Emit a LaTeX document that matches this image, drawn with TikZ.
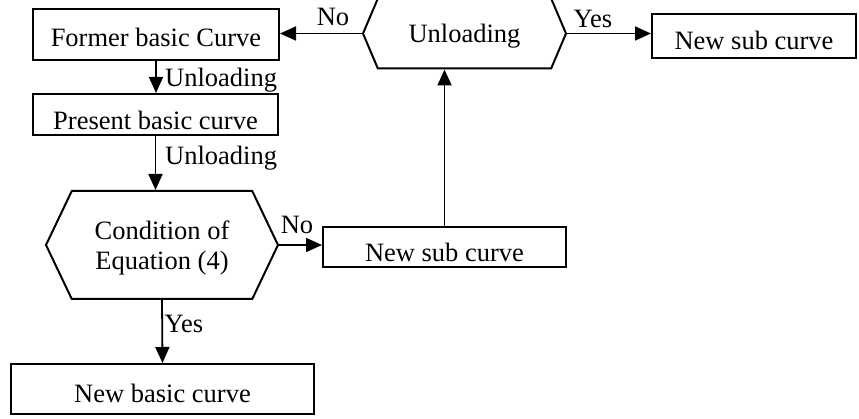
\documentclass[tikz,border=0pt]{standalone}
\usepackage{fontspec}
\setmainfont{Liberation Serif}
\usetikzlibrary{arrows.meta,shapes.symbols}

\begin{document}
\begin{tikzpicture}[x=1pt,y=-1pt,
	font=\fontsize{26.5}{30}\selectfont,
	curvebox/.style={draw, rectangle, line width=2pt, inner sep=0pt, text depth=0pt},
	testbox/.style={draw, shape=signal, signal to=west and east, line width=2pt, inner sep=0pt, align=center},
	flow/.style={line width=1.8pt, -{Triangle[length=16pt,width=14pt]}}]
	\begingroup
	\useasboundingbox (0,0) rectangle (859,419);
	
	\node[curvebox, minimum width=246pt, minimum height=51pt, text height=25pt] (former) at (156, 34.5) {Former basic Curve};
	\node[curvebox, minimum width=245pt, minimum height=41pt, text height=31pt] (present) at (155.5, 114.5) {Present basic curve};
	\node[testbox, minimum width=203pt, minimum height=70pt, signal pointer angle=134, text height=19pt, text depth=0pt] (unload) at (464.5, 33.5) {Unloading};
	\node[curvebox, minimum width=204pt, minimum height=44pt, text height=28pt] (subtop) at (754, 36) {New sub curve};
	\node[testbox, minimum width=232pt, minimum height=108pt, signal pointer angle=129, text depth=0pt] (cond) at (162, 245) {Condition of\\Equation (4)};
	\node[curvebox, minimum width=243pt, minimum height=40pt, text height=30pt] (submid) at (444.5, 247) {New sub curve};
	\node[curvebox, minimum width=303pt, minimum height=50pt, text height=26pt] (basic) at (162.5, 389) {New basic curve};
	
	\node (nofirst) at (333, 17) {No};
	\node (yesfirst) at (593, 19) {Yes};
	\node[anchor=west, inner sep=0pt] (unlfirst) at (165, 80) {Unloading};
	\node[anchor=west, inner sep=0pt] (unlsecond) at (165, 158) {Unloading};
	\node (nosecond) at (297, 225) {No};
	\node (yessecond) at (184, 324) {Yes};
	
	\draw[flow] (unload.west) -- (unload.west -| former.east);
	\draw[flow] (unload.east) -- (unload.east -| subtop.west);
	\draw[flow] (former.south) -- (former.south |- present.north);
	\draw[flow] (present.south) -- (present.south |- cond.north);
	\draw[flow] (cond.east) -- (cond.east -| submid.west);
	\draw[flow] (submid.north) -- (submid.north |- unload.south);
	\draw[flow] (cond.south) -- (basic.north);
	\endgroup
\end{tikzpicture}
\end{document}
